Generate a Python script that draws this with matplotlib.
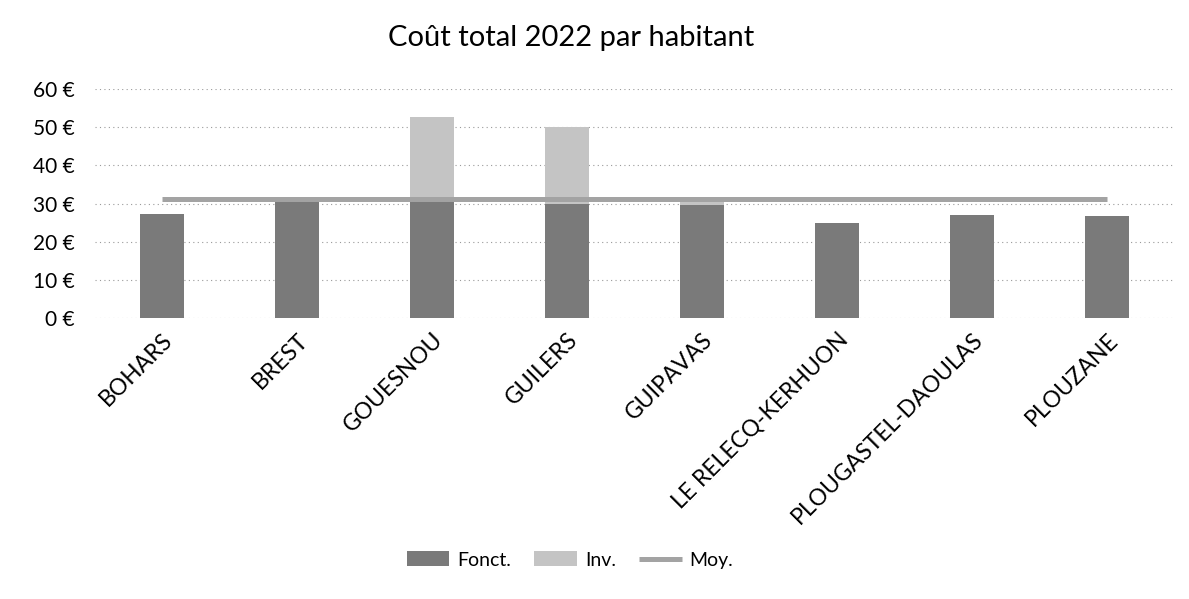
import matplotlib
matplotlib.use("Agg")
import matplotlib.pyplot as plt
import numpy as np

plt.rcParams['font.family'] = ['Lato', 'DejaVu Sans']

communes = ["BOHARS", "BREST", "GOUESNOU", "GUILERS", "GUIPAVAS",
            "LE RELECQ-KERHUON", "PLOUGASTEL-DAOULAS", "PLOUZANE"]
fonct = [27.3, 31.0, 31.0, 30.0, 29.5, 25.0, 27.0, 26.8]
inv = [0.0, 0.0, 21.7, 20.0, 1.5, 0.0, 0.0, 0.0]
moy = [31.2, 31.2, 31.2, 31.2, 31.2, 31.2, 31.2, 31.2]
yticks = [0, 10, 20, 30, 40, 50, 60]

W, H = 1189, 599
fig = plt.figure(figsize=(W / 100, H / 100), dpi=100)
ax = fig.add_axes([94.5 / W, 1 - 318 / H, 1080 / W, 229 / H])

x = np.arange(len(communes))
bw = 0.32
b1 = ax.bar(x, fonct, bw, color="#7a7a7a", label="Fonct.", zorder=2)
b2 = ax.bar(x, inv, bw, bottom=fonct, color="#c4c4c4", label="Inv.", zorder=2)
l1, = ax.plot(x, moy, color="#a3a3a3", lw=3.6, label="Moy.", zorder=3,
              solid_capstyle="butt")

ax.set_xlim(-0.5, len(communes) - 0.5)
ax.set_ylim(0, 60)
ax.set_yticks(yticks)
ax.set_yticklabels([f"{v} €" for v in yticks], fontsize=15)
ax.yaxis.grid(True, color="#9a9a9a", lw=0.8, ls=(0, (1, 3)), zorder=0)
ax.set_axisbelow(True)
for s in ax.spines.values():
    s.set_visible(False)
ax.tick_params(axis="both", length=0)
ax.tick_params(axis="y", pad=14)
ax.set_xticks(x)
ax.set_xticklabels(communes, rotation=45, ha="right", va="top",
                   rotation_mode="anchor", fontsize=16.5)
ax.tick_params(axis="x", pad=8)

fig.text(571 / W, 1 - 38 / H, "Coût total 2022 par habitant", fontsize=21,
         ha="center", va="center")

fig.legend([b1, b2, l1], ["Fonct.", "Inv.", "Moy."], loc="center",
           bbox_to_anchor=(570 / W, 1 - 560 / H), ncol=3,
           frameon=False, fontsize=14, handlelength=2.2, handleheight=0.8,
           columnspacing=1.2, handletextpad=0.4)

fig.savefig("out.png", dpi=100)
